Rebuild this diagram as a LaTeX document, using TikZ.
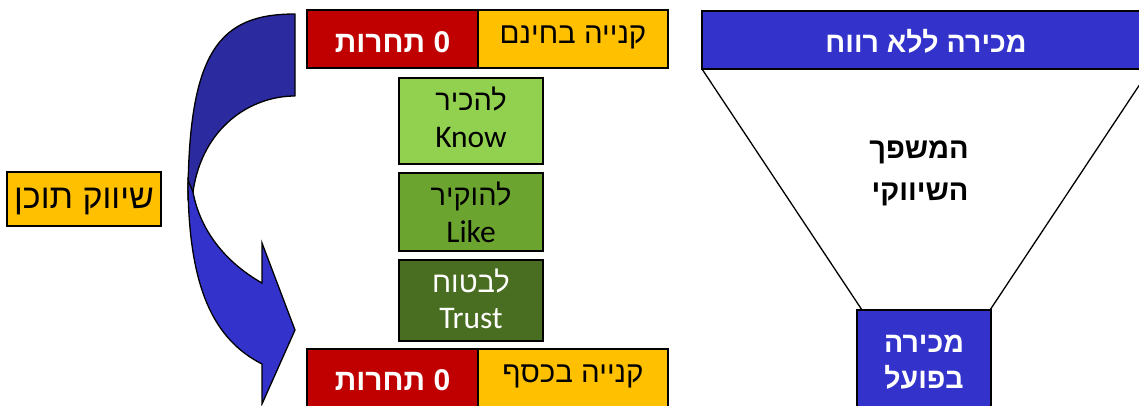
\documentclass[tikz,border=0pt]{standalone}
\usepackage{fontspec}
\setmainfont{Liberation Sans}
\newfontfamily\heb[Script=Hebrew]{Liberation Sans}
\newfontfamily\lat{Carlito}
\TeXXeTstate=1
\newcommand{\rtl}[1]{\beginR #1\endR}

\definecolor{redc}{HTML}{C00000}
\definecolor{orangec}{HTML}{FFC000}
\definecolor{greenA}{HTML}{92D050}
\definecolor{greenB}{HTML}{6BA52F}
\definecolor{greenC}{HTML}{4A6E21}
\definecolor{bluec}{HTML}{3333CC}
\definecolor{arrowdark}{HTML}{2B2A9E}

\begin{document}
\begin{tikzpicture}[x=1pt,y=-1pt,
  box/.style={draw=black, line width=1.6pt, inner sep=0pt, outer sep=0pt},
  txt/.style={anchor=base, inner sep=0pt, outer sep=0pt},
  hebn/.style={txt, font=\heb\fontsize{29.5}{32}\selectfont},
  hebb/.style={txt, font=\heb\bfseries\fontsize{30}{32}\selectfont},
  hebf/.style={txt, text=white, font=\heb\bfseries\fontsize{28.5}{32}\selectfont},
  hebg/.style={txt, font=\heb\fontsize{29}{32}\selectfont},
  latg/.style={txt, font=\lat\fontsize{31.5}{34}\selectfont},
  funnelline/.style={draw=black, line width=1.3pt}]

\clip (0,0) rectangle (1139,405);
\fill[white] (0,0) rectangle (1139,405);

% curved arrow: darker back band, then the front band with its head
\path[draw=black, line width=1.3pt, fill=arrowdark, line join=round]
  (295,14) .. controls (220,14) and (188,50) .. (188,200)
  -- (193,192) .. controls (202,128) and (250,96) .. (295,96) -- cycle;
\path[draw=black, line width=1.3pt, fill=bluec, line join=miter]
  (188,180) -- (193,192) .. controls (200,230) and (225,262) .. (262,283)
  -- (262,243) -- (295,330) -- (262,404) -- (262,364)
  .. controls (215,340) and (188,290) .. (188,180) -- cycle;

% content marketing label
\node[box, fill=orangec, minimum width=154pt, minimum height=54pt] (content) at (84,199) {};
\node[txt, font=\heb\fontsize{34}{36}\selectfont] (content-t) at (84,208) {\rtl{שיווק תוכן}};

% free purchase row
\node[box, fill=redc, minimum width=171pt, minimum height=58pt] (freeRed) at (392.5,39) {};
\node[box, fill=orangec, minimum width=190pt, minimum height=58pt] (freeOr) at (573,39) {};
\node[hebb, text=white] (freeRed-t) at (392.5,52) {\rtl{0 תחרות}};
\node[hebn] (freeOr-t) at (573,43) {\rtl{קנייה בחינם}};

% know / like / trust steps
\node[box, fill=greenA, minimum width=144pt, minimum height=86pt] (know) at (471,121) {};
\node[hebg] (know-h) at (471,110) {\rtl{להכיר}};
\node[latg] (know-e) at (471,147) {Know};

\node[box, fill=greenB, minimum width=144pt, minimum height=78pt] (like) at (471,212) {};
\node[hebg] (like-h) at (471,205) {\rtl{להוקיר}};
\node[latg] (like-e) at (471,242) {Like};

\node[box, fill=greenC, minimum width=144pt, minimum height=81pt] (trust) at (471,300.5) {};
\node[hebg, text=white] (trust-h) at (471,292) {\rtl{לבטוח}};
\node[latg, text=white] (trust-e) at (471,328) {Trust};

% paid purchase row
\node[box, fill=redc, minimum width=171pt, minimum height=58pt] (paidRed) at (392.5,378) {};
\node[box, fill=orangec, minimum width=190pt, minimum height=58pt] (paidOr) at (573,378) {};
\node[hebb, text=white] (paidRed-t) at (392.5,390) {\rtl{0 תחרות}};
\node[hebn] (paidOr-t) at (573,382) {\rtl{קנייה בכסף}};

% marketing funnel
\node[box, fill=bluec, minimum width=448pt, minimum height=58pt] (bar) at (926,40) {};
\node[hebf] (bar-t) at (926,52) {\rtl{מכירה ללא רווח}};
\node[box, fill=bluec, minimum width=134pt, minimum height=110pt] (neck) at (924,365) {};
\node[hebf] (neck-t1) at (924,352) {\rtl{מכירה}};
\node[hebf] (neck-t2) at (924,388) {\rtl{בפועל}};
\draw[funnelline] (bar.south west) -- ([xshift=5pt]neck.north west);
\draw[funnelline] (bar.south east) -- ([xshift=-1pt]neck.north east);
\node[hebf, text=black, font=\heb\bfseries\fontsize{29}{32}\selectfont] (funnel-t1) at (919,158) {\rtl{המשפך}};
\node[hebf, text=black, font=\heb\bfseries\fontsize{29}{32}\selectfont] (funnel-t2) at (920,200) {\rtl{השיווקי}};
\end{tikzpicture}
\end{document}
